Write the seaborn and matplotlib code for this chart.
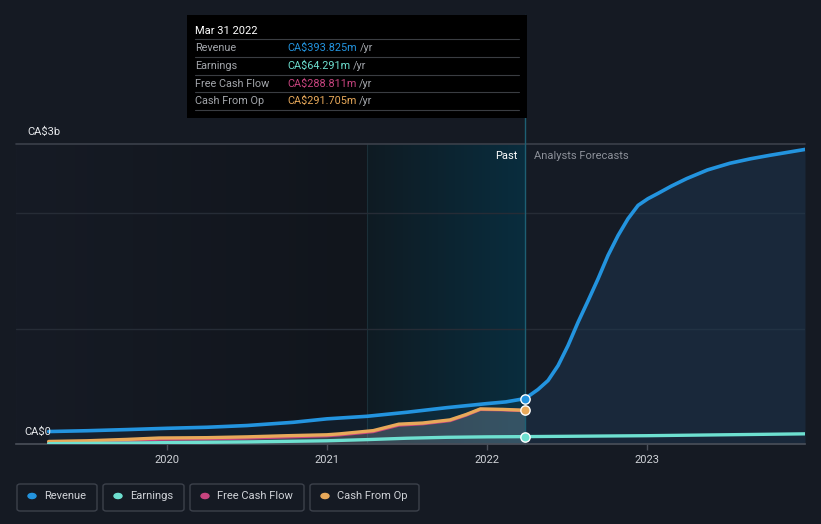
import numpy as np
import pandas as pd
import matplotlib
matplotlib.use("Agg")
import matplotlib.pyplot as plt
import seaborn as sns
from matplotlib.patches import FancyBboxPatch, Rectangle
from matplotlib.colors import LinearSegmentedColormap

# ---------------- data (CA$ millions) ----------------
rev_past_t = [2019.26, 2019.5, 2019.75, 2020.0, 2020.25, 2020.5, 2020.79, 2021.0,
              2021.25, 2021.5, 2021.75, 2022.0, 2022.12, 2022.24]
rev_past_v = [108, 115, 125, 136, 145, 160, 188, 218, 240, 275, 315, 350, 365, 394]

rev_fc_t = [2022.24, 2022.32, 2022.383, 2022.446, 2022.508, 2022.571, 2022.633, 2022.696,
            2022.758, 2022.821, 2022.883, 2022.946, 2023.008, 2023.071, 2023.154, 2023.25,
            2023.38, 2023.52, 2023.65, 2023.77, 2023.99]
rev_fc_v = [394, 472, 550, 680, 853, 1056, 1240, 1432, 1634, 1807, 1952, 2068, 2126, 2172,
            2235, 2300, 2375, 2433, 2472, 2502, 2553]

earn_t = [2019.26, 2019.5, 2019.75, 2020.0, 2020.5, 2021.0, 2021.25, 2021.5, 2021.75,
          2022.0, 2022.24]
earn_v = [3, 5, 8, 12, 18, 28, 38, 50, 58, 62, 64]
earn_fc_t = [2022.24, 2023.0, 2023.99]
earn_fc_v = [64, 72, 88]

cf_t = [2019.26, 2019.5, 2019.75, 2019.95, 2020.25, 2020.5, 2020.75, 2021.0, 2021.08,
        2021.29, 2021.45, 2021.6, 2021.77, 2021.87, 2021.96, 2022.1, 2022.24]
cfo_v = [22, 28, 40, 52, 55, 62, 72, 80, 88, 116, 172, 182, 209, 255, 304, 300, 292]
fcf_v = [12, 18, 30, 42, 45, 52, 62, 72, 80, 108, 164, 176, 203, 250, 300, 297, 289]

x_ticks = [2020, 2021, 2022, 2023]
x_tick_labels = ["2020", "2021", "2022", "2023"]

tooltip_date = "Mar 31 2022"
tooltip_labels = ["Revenue", "Earnings", "Free Cash Flow", "Cash From Op"]
tooltip_values = ["CA$393.825m", "CA$64.291m", "CA$288.811m", "CA$291.705m"]
legend_labels = ["Revenue", "Earnings", "Free Cash Flow", "Cash From Op"]

# ---------------- style ----------------
BG = "#151a23"
C_REV = "#2394df"
C_EARN = "#6ee0d0"
C_FCF = "#c8447f"
C_CFO = "#e8a95a"
colors = [C_REV, C_EARN, C_FCF, C_CFO]

sns.set_theme(style="dark")
plt.rcParams["font.family"] = ["Roboto", "DejaVu Sans"]

fig = plt.figure(figsize=(8.21, 5.24), dpi=100, facecolor=BG)
W, H = 821, 524
x0, x1 = 16, 805
ytop, ybot = 144, 444
ax = fig.add_axes([x0 / W, 1 - ybot / H, (x1 - x0) / W, (ybot - ytop) / H])
ax.set_facecolor(BG)

XMIN, XMAX = 2019.056, 2023.99
YMAX = 2600
NOW = 2022.24
PAST_START = 2021.25
ax.set_xlim(XMIN, XMAX)
ax.set_ylim(0, YMAX)

# background gradients
g = np.linspace(0, 1, 256).reshape(1, -1)
cm_left = LinearSegmentedColormap.from_list("l", ["#161b25", "#11151c"])
ax.imshow(g, cmap=cm_left, extent=[XMIN, PAST_START, 0, YMAX], aspect="auto", zorder=0)
cm_past = LinearSegmentedColormap.from_list("p", ["#0f1b23", "#092d3e"])
ax.imshow(g, cmap=cm_past, extent=[PAST_START, NOW, 0, YMAX], aspect="auto", zorder=0)
ax.add_patch(Rectangle((NOW, 0), XMAX - NOW, YMAX, color="#151b25", zorder=0.1, lw=0))
ax.axvline(PAST_START, color="#1b2f38", lw=0.8, zorder=0.2)

# gridlines
for yv in [1000, 2000]:
    ax.axhline(yv, color="#262c36", lw=1, zorder=0.5)
ax.axhline(YMAX, color="#3b404a", lw=1.2, zorder=0.5, clip_on=False)

# dataframes
df_rev_p = pd.DataFrame({"t": rev_past_t, "v": rev_past_v})
df_rev_f = pd.DataFrame({"t": rev_fc_t, "v": rev_fc_v})
df_earn = pd.DataFrame({"t": earn_t + earn_fc_t[1:], "v": earn_v + earn_fc_v[1:]})
df_cfo = pd.DataFrame({"t": cf_t, "v": cfo_v})
df_fcf = pd.DataFrame({"t": cf_t, "v": fcf_v})

# fills
ax.fill_between(df_rev_p["t"], df_rev_p["v"], 0, color=C_REV, alpha=0.07, lw=0, zorder=1)
ax.fill_between(df_rev_f["t"], df_rev_f["v"], 0, color="#1e3a55", alpha=0.45, lw=0, zorder=1)
ax.fill_between(df_cfo["t"], df_cfo["v"], 0, color="#9aa0aa", alpha=0.3, lw=0, zorder=1.5)

# lines
kw = dict(ax=ax, sort=False, solid_joinstyle="round", solid_capstyle="round")
sns.lineplot(data=df_fcf, x="t", y="v", color=C_FCF, lw=2.4, zorder=3, **kw)
sns.lineplot(data=df_cfo, x="t", y="v", color=C_CFO, lw=2.4, zorder=3.2, **kw)
sns.lineplot(data=df_earn, x="t", y="v", color=C_EARN, lw=2.4, zorder=3.4, **kw)
sns.lineplot(data=df_rev_p, x="t", y="v", color=C_REV, lw=2.6, zorder=3.6, **kw)
sns.lineplot(data=df_rev_f, x="t", y="v", color=C_REV, lw=2.6, zorder=3.6, **kw)

# now line
ax.plot([NOW, NOW], [0, 1.43], transform=ax.get_xaxis_transform(), color="#1d5f73",
        lw=1, zorder=2.5, clip_on=False)

# markers at now
for val, c in [(rev_past_v[-1], C_REV), (cfo_v[-1], C_CFO), (earn_v[-1], C_EARN)]:
    ax.scatter([NOW], [val], s=45, color=c, edgecolor="white", linewidth=1, zorder=5)

# axes styling
for s in ["top", "right", "left"]:
    ax.spines[s].set_visible(False)
ax.spines["bottom"].set_color("#4a4f59")
ax.spines["bottom"].set_linewidth(1.2)
ax.set_xticks(x_ticks)
ax.set_xticklabels(x_tick_labels)
ax.tick_params(axis="x", colors="#4a4f59", labelcolor="#d0d3d8", length=4, width=1,
               labelsize=8, direction="out", bottom=True, pad=4)
ax.set_yticks([])
ax.set_xlabel("")
ax.set_ylabel("")
ax.grid(False)

# y labels
fig.text(27 / W, 1 - 132 / H, "CA$3b", color="#e6e8eb", fontsize=8, va="center", ha="left")
fig.text(24 / W, 1 - 432 / H, "CA$0", color="#e6e8eb", fontsize=8, va="center", ha="left")

# past / forecast labels
fig.text(517 / W, 1 - 156 / H, "Past", color="#ffffff", fontsize=8, va="center", ha="right")
fig.text(534 / W, 1 - 156 / H, "Analysts Forecasts", color="#8c9099", fontsize=8,
         va="center", ha="left")

# tooltip
fig.patches.append(Rectangle((187 / W, 1 - 118 / H), 340 / W, 103 / H, transform=fig.transFigure,
                             facecolor="#000000", edgecolor="none", zorder=10))
fig.text(195 / W, 1 - 31 / H, tooltip_date, color="#ffffff", fontsize=8, va="center",
         ha="left", zorder=11)
row_y = [48, 66, 84, 101]
for i, (lab, val) in enumerate(zip(tooltip_labels, tooltip_values)):
    yy = 1 - row_y[i] / H
    fig.lines.append(plt.Line2D([195 / W, 519 / W], [1 - (row_y[i] - 9) / H] * 2,
                                transform=fig.transFigure, color="#3a3d42", lw=0.8, zorder=11))
    fig.text(195 / W, yy, lab, color="#a3a6ab", fontsize=7.8, va="center", ha="left", zorder=11)
    t = fig.text(287 / W, yy, val, color=colors[i], fontsize=7.8, va="center", ha="left", zorder=11)
    fig.canvas.draw()
    bb = t.get_window_extent()
    fig.text(bb.x1 / W + 3 / W, yy, "/yr", color="#a3a6ab", fontsize=7.8, va="center",
             ha="left", zorder=11)
fig.lines.append(plt.Line2D([195 / W, 519 / W], [1 - 110 / H] * 2, transform=fig.transFigure,
                            color="#3a3d42", lw=0.8, zorder=11))

# legend boxes
boxes = [(17, 97), (103, 184), (190, 304), (310, 419)]
for (bx0, bx1), lab, c in zip(boxes, legend_labels, colors):
    fig.patches.append(FancyBboxPatch((bx0 / W, 1 - 511 / H), (bx1 - bx0) / W, 27 / H,
                                      boxstyle="round,pad=0,rounding_size=0.004",
                                      transform=fig.transFigure, facecolor="none",
                                      edgecolor="#3c414b", lw=1))
    fig.patches.append(matplotlib.patches.Circle(((bx0 + 15) / W, 1 - 496 / H), 4 / W,
                                                 transform=fig.transFigure, color=c))
    fig.text((bx0 + 27) / W, 1 - 496 / H, lab, color="#d0d3d8", fontsize=8, va="center", ha="left")

fig.savefig("out.png", dpi=100, facecolor=BG)
